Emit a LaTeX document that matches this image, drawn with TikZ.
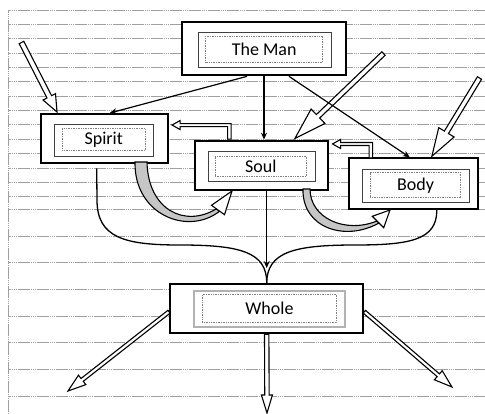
\documentclass[tikz,border=0pt]{standalone}
\usepackage{fontspec}
\setmainfont{Carlito}
\usetikzlibrary{arrows.meta,calc}

% hollow block arrow between two named points
\newcommand\blockarrow[5]{%
  \pgfpointdiff{\pgfpointanchor{#1}{center}}{\pgfpointanchor{#2}{center}}%
  \pgfgetlastxy{\bax}{\bay}%
  \pgfmathsetmacro\baang{atan2(\bay,\bax)}%
  \pgfmathsetmacro\balen{veclen(\bax,\bay)}%
  \draw[block arrow,shift={(#1)},rotate=\baang]
    (0pt,-#3) -- ({\balen pt-#5},-#3) -- ({\balen pt-#5},-#4) -- (\balen pt,0pt)
    -- ({\balen pt-#5},#4) -- ({\balen pt-#5},#3) -- (0pt,#3) -- cycle;}

\begin{document}
\begin{tikzpicture}[x=1pt,y=-1pt,font=\fontsize{18}{20}\selectfont,
    % styles
    grid line/.style={gray!75,line width=0.8pt,dash pattern=on 1.5pt off 0.4pt},
    outer box/.style={draw,line width=2pt,fill=white,inner sep=0pt},
    mid box/.style={draw=black!75,line width=0.9pt,inner sep=0pt},
    text box/.style={draw=gray,densely dotted,line width=0.7pt,inner sep=0pt},
    thin arrow/.style={line width=1.2pt,-{Stealth[length=7pt,width=6pt]}},
    brace line/.style={line width=1.3pt},
    block arrow/.style={draw,fill=white,line width=1.1pt,line join=miter},
    curved band/.style={draw,fill=gray!45,line width=1.1pt}]

  \useasboundingbox (0,0) rectangle (485,413);

  % ruled paper
  \foreach \y in {10,24.36,...,197}
    \draw[grid line] (8,\y) -- (485,\y);
  \foreach \y in {209.3,236,...,398}
    \draw[grid line] (8,\y) -- (485,\y);
  \draw[grid line] (8,10) -- (8,413);

  % boxes
  \node[outer box,minimum width=163.4pt,minimum height=53.3pt] (man) at (264,48.7) {};
  \node[mid box,minimum width=133.7pt,minimum height=35pt] (man mid) at (264.8,49.8) {};
  \node[text box,minimum width=117pt,minimum height=26pt] (man text) at (264.2,49) {The Man};

  \node[outer box,minimum width=127.3pt,minimum height=49.3pt] (spirit) at (104.7,138.7) {};
  \node[mid box,minimum width=99pt,minimum height=32pt] (spirit mid) at (103.8,140) {};
  \node[text box,minimum width=82.7pt,minimum height=22.4pt] (spirit text) at (103.7,139.5) {Spirit};

  \node[outer box,minimum width=133.3pt,minimum height=49.3pt] (soul) at (261.7,165.3) {};
  \node[mid box,minimum width=106.7pt,minimum height=30pt] (soul mid) at (261.7,166) {};
  \node[text box,minimum width=91.7pt,minimum height=20pt] (soul text) at (260.8,166) {Soul};

  \node[outer box,minimum width=129pt,minimum height=50.7pt] (body) at (413.8,183.7) {};
  \node[mid box,minimum width=106.7pt,minimum height=33pt] (body mid) at (415.7,185.8) {};
  \node[text box,minimum width=90.4pt,minimum height=25pt] (body text) at (415.5,185.2) {Body};

  \node[outer box,minimum width=193.3pt,minimum height=49.3pt] (whole) at (266.7,308.7) {};
  \node[mid box,draw=gray!60,line width=2pt,minimum width=150.7pt,minimum height=36.6pt] (whole mid) at (269.7,309) {};
  \node[text box,minimum width=134.4pt,minimum height=28pt] (whole text) at (269.5,308.3) {Whole};

  % incoming block arrows
  \coordinate (in spirit) at (21.5,42.5);
  \coordinate (in soul) at (383.5,53.5);
  \coordinate (in body) at (479.5,78);
  \coordinate (hit spirit) at ($(spirit.north west)+(17,-1)$);
  \coordinate (hit soul) at ($(soul.north)+(33,-1)$);
  \coordinate (hit body) at ($(body.north)+(18,-1)$);
  \blockarrow{in spirit}{hit spirit}{2.6pt}{7pt}{17pt}
  \blockarrow{in soul}{hit soul}{2.4pt}{10pt}{32pt}
  \blockarrow{in body}{hit body}{2.4pt}{9pt}{28pt}

  % outgoing block arrows
  \coordinate (whole left) at ($(whole.west)+(0,3)$);
  \coordinate (whole right) at ($(whole.east)+(0,3)$);
  \coordinate (whole down) at (whole.south);
  \coordinate (out left) at (68,391);
  \coordinate (out down) at (267,413);
  \coordinate (out right) at (452,387);
  \blockarrow{whole left}{out left}{1.8pt}{6pt}{18pt}
  \blockarrow{whole down}{out down}{2.2pt}{5.5pt}{18pt}
  \blockarrow{whole right}{out right}{1.8pt}{6pt}{18pt}

  % thin arrows
  \draw[thin arrow] ($(man.south)+(-17,0)$) -- ($(spirit.north)+(5,0)$);
  \draw[thin arrow] (man.south) -- (man.south |- soul.north);
  \draw[thin arrow] ($(man.south)+(25,0)$) -- ($(body.north)+(-4,0)$);
  \draw[thin arrow,shorten >=15pt] (whole.north |- soul.south) -- (whole.north);

  % brace
  \draw[brace line] ($(spirit.south)+(-8,4)$) -- (97,200)
    .. controls (97,238) and (125,245) .. (180,245)
    .. controls (240,245) and (267,252) .. (whole.north);
  \draw[brace line] ($(body.south)+(23,0)$)
    .. controls (437,240) and (410,245) .. (355,245)
    .. controls (294,245) and (267,252) .. (whole.north);

  % elbow arrows
  \draw[block arrow] ($(spirit.north east)+(2.7,12)$) -- ++(8,-4.5) -- ++(0,3)
    -- ++(51,0) -- ++(0,15.5) -- ++(-3.5,0) -- ++(0,-12.5) -- ++(-47.5,0)
    -- ++(0,3) -- cycle;
  \draw[block arrow] ($(soul.north east)+(3.2,4.3)$) -- ++(8,-4.5) -- ++(0,3)
    -- ++(32,0) -- ++(0,15.5) -- ++(-3.5,0) -- ++(0,-12.5) -- ++(-28.5,0)
    -- ++(0,3) -- cycle;

  % curved arrows
  \draw[curved band] (135,162) .. controls (134,215) and (188,236) .. (219.6,211.2)
    -- (216.4,208.8) .. controls (185,228) and (148,210) .. (147,162) -- cycle;
  \draw[block arrow] (224.5,214.7) -- (232,191) -- (211.5,205.3) -- cycle;
  \draw[curved band] (303,189) .. controls (302,228) and (345,242) .. (379,223)
    -- (377,221) .. controls (345,234) and (310,218) .. (310,189) -- cycle;
  \draw[block arrow] (383.7,227.7) -- (390,210) -- (372.3,216.3) -- cycle;
\end{tikzpicture}
\end{document}
